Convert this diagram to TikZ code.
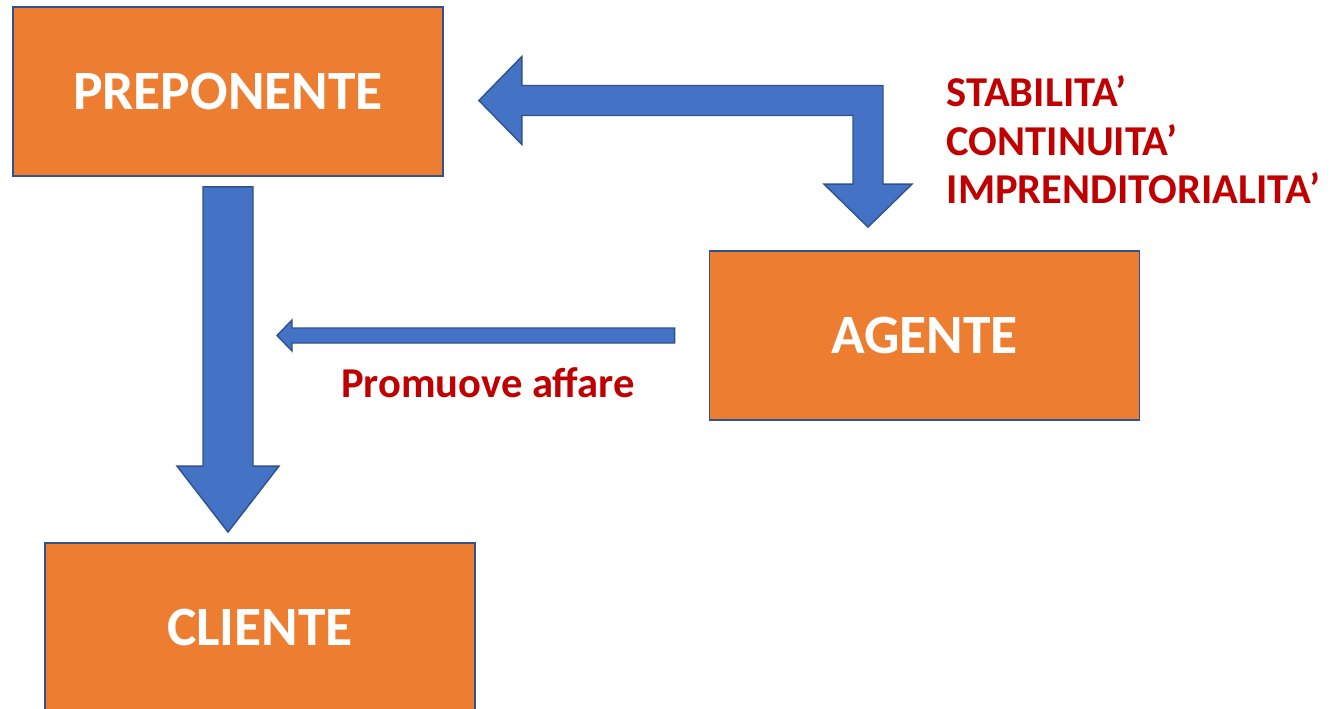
\documentclass[tikz,border=0pt]{standalone}
\usepackage{fontspec}
\setmainfont{Carlito}
\usepackage{tikz}
\usetikzlibrary{calc}
\definecolor{boxorange}{HTML}{ED7D31}
\definecolor{boxline}{HTML}{2F528F}
\definecolor{arrowblue}{HTML}{4472C4}
\definecolor{notered}{HTML}{C00000}

\begin{document}
\begin{tikzpicture}[x=0.1mm, y=-0.1mm,
	party/.style={draw=boxline, line width=0.5pt, fill=boxorange, text=white,
		minimum width=4.3cm, minimum height=1.69cm, inner sep=0pt,
		font=\fontsize{15.8}{18}\selectfont\bfseries},
	blockarrow/.style={draw=boxline, line width=0.4pt, fill=arrowblue, line join=miter},
	note/.style={text=notered, inner sep=0pt, font=\fontsize{12.1}{13.8}\selectfont\bfseries}]
	\useasboundingbox (0,0) rectangle (1334,709);
	\node[party] (prep) at (228,91.5) {PREPONENTE};
	\node[party] (agent) at (924.5,335.5) {AGENTE};
	\node[party] (cli) at (260,627.5) {CLIENTE};
	% preponente -> cliente
	\coordinate (d1) at ($(prep.south)+(0,10)$);
	\coordinate (d2) at ($(prep.south |- cli.north)+(0,-10)$);
	\draw[blockarrow] ($(d1)+(-25,0)$) -- ($(d2)+(-25,-66)$) -- ($(d2)+(-51,-66)$)
		-- (d2) -- ($(d2)+(51,-66)$) -- ($(d2)+(25,-66)$) -- ($(d1)+(25,0)$) -- cycle;
	% preponente <-> agente
	\coordinate (b1) at ($(prep.east)+(35,9)$);
	\coordinate (b2) at ($(agent.north)+(-56.5,-23)$);
	\draw[blockarrow] (b1) -- ($(b1)+(43,-44)$) -- ($(b1)+(43,-15)$) -- ($(b2 |- b1)+(15,-15)$)
		-- ($(b2)+(15,-43)$) -- ($(b2)+(44,-43)$) -- (b2) -- ($(b2)+(-44,-43)$)
		-- ($(b2)+(-15,-43)$) -- ($(b2 |- b1)+(-15,15)$) -- ($(b1)+(43,15)$)
		-- ($(b1)+(43,44)$) -- cycle;
	% agente -> cliente
	\coordinate (s1) at ($(agent.west)+(-34,0)$);
	\coordinate (t1) at (277,335.5);
	\draw[blockarrow] (s1) -- ($(s1)+(0,-7.5)$) -- ($(t1)+(15,-7.5)$) -- ($(t1)+(15,-15.5)$)
		-- (t1) -- ($(t1)+(15,15.5)$) -- ($(t1)+(15,7.5)$) -- ($(s1)+(0,7.5)$) -- cycle;
	\node[note] (promo) at (488,383) {Promuove affare};
	\node[note, anchor=north west, align=left] (traits) at (946,75)
		{STABILITA’\\CONTINUITA’\\IMPRENDITORIALITA’};
\end{tikzpicture}
\end{document}
